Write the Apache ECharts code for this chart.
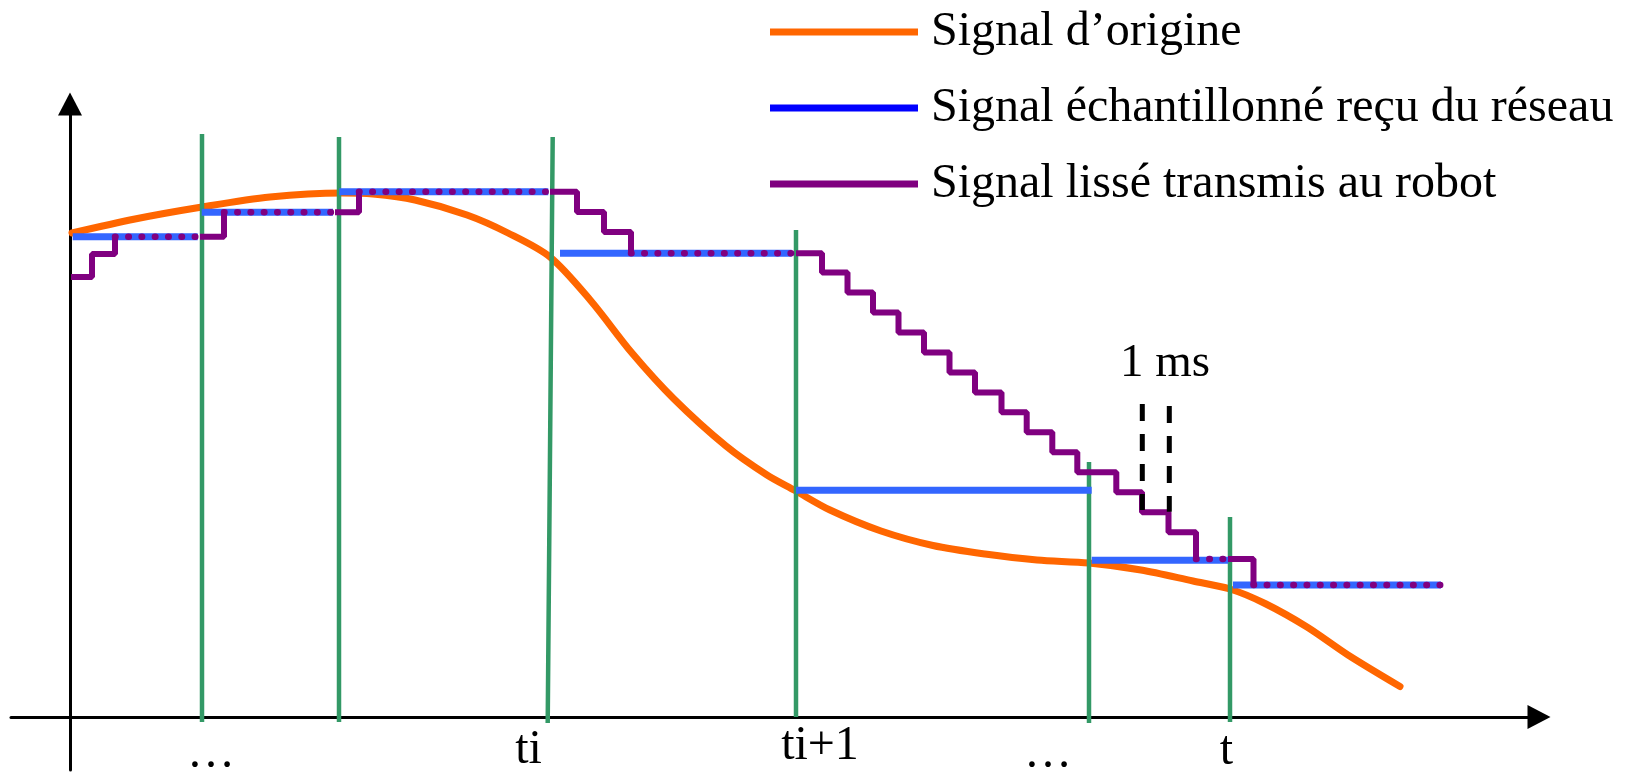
<!DOCTYPE html>
<html>
<head>
<meta charset="utf-8">
<script src="https://cdn.jsdelivr.net/npm/echarts@6/dist/echarts.min.js"></script>
<style>html,body{margin:0;padding:0;background:#fff}#c{width:1627px;height:773px}</style>
</head>
<body>
<div id="c"></div>
<script>
// ---- data (x: time units, y: signal units; origin at the axes crossing) ----
const originalSignal = [[2,484],[65,498],[132,510],[200,520],[272,524],[303,523],[345,517],[397,502],[438,484],[480,460],[521,416],[562,364],[604,318],[656,271],[697,242],[725,226.5],[760,207],[811,186],[863,171.5],[915,163],[967,157],[1019,154],[1071,147],[1123,136],[1160,128],[1195,113.5],[1237,90],[1278,62],[1330,30.5]];

const receivedLevels = [480.3, 504.7, 525.3, 463.7, 226.7, 156.7, 132];
const receivedStart  = [2.7, 131.7, 269.3, 490, 726, 1021.7, 1163];
const receivedEnd    = [127.7, 263, 478.3, 721.7, 1021.7, 1158.3, 1371];

const sampleTopX    = [132, 269, 482.7, 726, 1019, 1160];
const sampleBottomX = [132, 269, 477.7, 726, 1019, 1160];
const sampleTop     = [583, 580, 580, 487, 255, 200];
const sampleBottom  = [-5, -5, -6, 0, -6, -5];

// smoothed signal, solid parts: [x, value] where the value changes (1 ms steps)
const smoothedSegments = [
  [[1,440],[22,463],[45,480.3]],
  [[130,480.3],[154,504.7]],
  [[265,504.7],[289,525.3]],
  [[480,525.3],[507,505],[534,485],[561,463.7]],
  [[726,463.7],[752,444.5],[777.5,424.5],[803,404.5],[828.5,384.5],[854,364.5],[879.5,344.5],[905,324.5],[931.5,304.7],[956.7,284.7],[982.3,264.7],[1007.3,244.7],[1046.3,224.7],[1072,204.7],[1098.5,184.7],[1126,158]],
  [[1158,158],[1183.5,132]]
];
// smoothed signal, parts that coincide with the received signal (dotted)
const dottedStart = [45, 154, 289, 561, 1126, 1183.5];
const dottedEnd   = [128, 263, 478, 722, 1158, 1371];
const dottedLevel = [480.3, 504.7, 525.3, 463.7, 158, 132];

const msMarkX   = [1072.3, 1099.3];
const msMarkTop = [313, 311];
const msMarkBot = [207, 205.3];

const tickLabels = ['…', 'ti', 'ti+1', '…', 't'];
const tickX      = [141, 458.5, 750, 978, 1156.5];
const tickY      = [-37, -33, -29, -37, -34];

const msLabel = '1 ms';
const msLabelPos = [1095, 353];

const names = ['Signal d’origine', 'Signal échantillonné reçu du réseau', 'Signal lissé transmis au robot'];

// ---- build series data ----
function joinSegments(segs){
  const out = [];
  segs.forEach((s, i) => { if (i) out.push([s[0][0], '-']); s.forEach(p => out.push(p)); });
  return out;
}
function stepCorners(seg){
  const out = [seg[0]];
  for (let i = 1; i < seg.length; i++) { out.push([seg[i][0], seg[i-1][1]]); out.push(seg[i]); }
  return out;
}
const receivedData = joinSegments(receivedLevels.map((v, i) => [[receivedStart[i], v], [receivedEnd[i], v]]));
const sampleData = joinSegments(sampleTop.map((t, i) => [[sampleTopX[i], t], [sampleBottomX[i], sampleBottom[i]]]));
const dottedData = joinSegments(dottedLevel.map((v, i) => [[dottedStart[i], v], [dottedEnd[i], v]]));
const smoothedData = joinSegments(smoothedSegments.map(stepCorners));
const msData = joinSegments(msMarkX.map((x, i) => [[x, msMarkTop[i]], [x, msMarkBot[i]]]));

const serif = 'Liberation Serif, Times New Roman, serif';
const textLabel = { show: true, position: 'inside', fontFamily: serif, fontSize: 48, color: '#000', opacity: 1, textBorderWidth: 0 };
const chart = echarts.init(document.getElementById('c'));
chart.setOption({
  animation: false,
  backgroundColor: '#fff',
  grid: { left: 11, right: 88, top: 104, bottom: 3, containLabel: false },
  xAxis: {
    type: 'value', min: -59, max: 1469,
    axisLine: { onZero: true, symbol: ['none', 'triangle'], symbolSize: [24, 23], lineStyle: { color: '#000', width: 3 } },
    axisTick: { show: false }, axisLabel: { show: false }, splitLine: { show: false }
  },
  yAxis: {
    type: 'value', min: -53, max: 613,
    axisLine: { show: true, onZero: true, symbol: ['none', 'triangle'], symbolSize: [24, 23], lineStyle: { color: '#000', width: 3 } },
    axisTick: { show: false }, axisLabel: { show: false }, splitLine: { show: false }
  },
  legend: {
    orient: 'vertical', left: 765, top: 3, itemWidth: 148, itemHeight: 7, itemGap: 28,
    icon: 'rect', selectedMode: false,
    textStyle: { fontFamily: serif, fontSize: 48, color: '#000', padding: [0, 0, 0, 8] },
    data: [
      { name: names[0], itemStyle: { color: '#ff6600' } },
      { name: names[1], itemStyle: { color: '#0000ff' } },
      { name: names[2], itemStyle: { color: '#800080' } }
    ]
  },
  series: [
    { name: names[0], type: 'line', data: originalSignal, smooth: 0.3, showSymbol: false, z: 2,
      lineStyle: { color: '#ff6600', width: 7, cap: 'round' }, itemStyle: { color: '#ff6600' } },
    { name: 'samples', type: 'line', data: sampleData, showSymbol: false, z: 3, connectNulls: false,
      lineStyle: { color: '#339966', width: 4.5 }, itemStyle: { color: '#339966' } },
    { name: names[1], type: 'line', data: receivedData, showSymbol: false, z: 4, connectNulls: false,
      lineStyle: { color: '#3366ff', width: 7 }, itemStyle: { color: '#3366ff' } },
    { name: names[2], type: 'line', data: smoothedData, showSymbol: false, z: 5, connectNulls: false,
      lineStyle: { color: '#800080', width: 6 }, itemStyle: { color: '#800080' } },
    { name: 'smoothedDots', type: 'line', data: dottedData, showSymbol: false, z: 6, connectNulls: false,
      lineStyle: { color: '#800080', width: 6.5, type: [0.5, 12.8], cap: 'round' }, itemStyle: { color: '#800080' } },
    { name: 'ms', type: 'line', data: msData, showSymbol: false, z: 6, connectNulls: false,
      lineStyle: { color: '#000', width: 5, type: [17, 13] }, itemStyle: { color: '#000' } },
    { name: 'ticks', type: 'scatter', z: 7, symbolSize: 1, itemStyle: { color: '#fff', opacity: 1 },
      data: tickLabels.map((t, i) => ({ value: [tickX[i], tickY[i]], label: { formatter: t } })),
      label: textLabel },
    { name: 'msLabel', type: 'scatter', z: 7, symbolSize: 1, itemStyle: { color: '#fff', opacity: 1 },
      data: [{ value: msLabelPos, label: { formatter: msLabel } }],
      label: Object.assign({}, textLabel, { fontSize: 47 }) }
  ]
});
</script>
</body>
</html>
